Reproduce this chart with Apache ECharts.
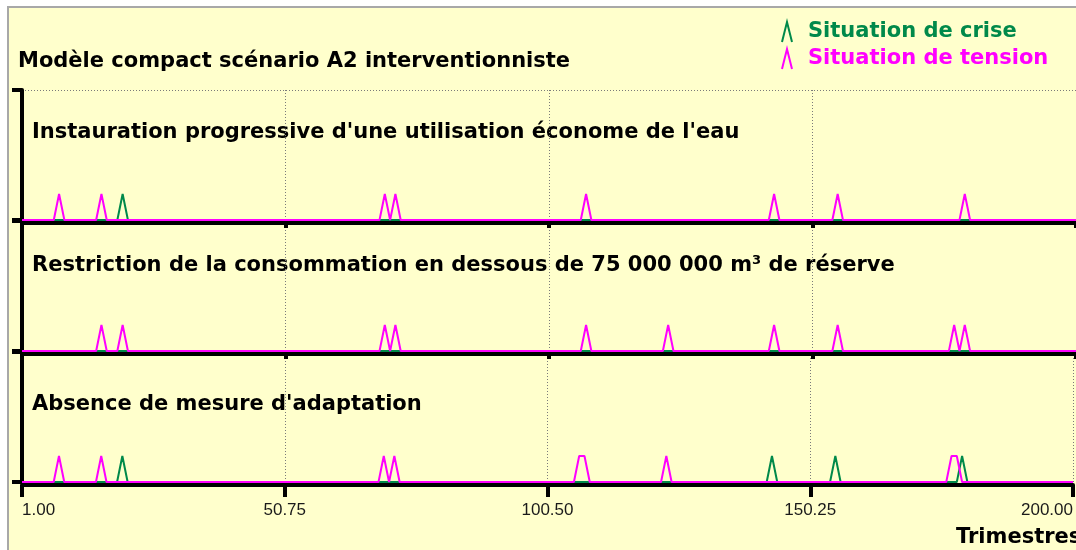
<!DOCTYPE html>
<html>
<head>
<meta charset="utf-8">
<script src="https://cdn.jsdelivr.net/npm/echarts@6/dist/echarts.min.js"></script>
<style>
html,body{margin:0;padding:0;background:#fff;}
#chart{width:1076px;height:550px;}
</style>
</head>
<body>
<div id="chart"></div>
<script>
// ---- data (trimesters at which each situation peaks) ----
const panelTitles = [
  "Instauration progressive d'une utilisation économe de l'eau",
  "Restriction de la consommation en dessous de 75 000 000 m³ de réserve",
  "Absence de mesure d'adaptation"
];
const seriesNames = ["Situation de crise", "Situation de tension"];
const crise1   = [20];
const tension1 = [8, 16, 69.5, 71.5, 107.5, 143, 155, 179];
const crise2   = [];
const tension2 = [16, 20, 69.5, 71.5, 107.5, 123, 143, 155, 177, 179];
const crise3   = [20, 143, 155, 179];
const tension3 = [8, 16, 69.5, 71.5, 106.5, 107.5, 123, 177, 178];
const tickLabels = ["1.00", "50.75", "100.50", "150.25", "200.00"];
const T_MIN = 1, T_MAX = 200;
const mainTitle = "Modèle compact scénario A2 interventionniste";
const xName = "Trimestres";

// ---- style ----
const GREEN = '#00894A';
const MAGENTA = '#FF00FF';
const BOLD_FONT = '"DejaVu Sans", sans-serif';

// build a 0/1 step line from the list of peak trimesters (x measured from T_MIN)
function buildLine(times) {
  const s = times.slice().sort((a, b) => a - b);
  const pts = [[0, 0]];
  s.forEach((t, i) => {
    const prev = s[i - 1], next = s[i + 1];
    if (prev === undefined || t - prev > 1) pts.push([t - 1 - T_MIN, 0]);
    pts.push([t - T_MIN, 1]);
    if (next === undefined || next - t > 1) pts.push([t + 1 - T_MIN, 0]);
  });
  pts.push([T_MAX - T_MIN, 0]);
  return pts;
}

const panels = [
  { crise: crise1, tension: tension1 },
  { crise: crise2, tension: tension2 },
  { crise: crise3, tension: tension3 }
];
const gridTops = [90, 221, 352];
const gridH = 130;

const grids = [], xAxes = [], yAxes = [], series = [];
panels.forEach((p, i) => {
  const last = i === panels.length - 1;
  grids.push({ left: 22, right: -2, top: gridTops[i], height: gridH, containLabel: false });
  xAxes.push({
    type: 'value', gridIndex: i, min: 0, max: T_MAX - T_MIN, interval: 49.75,
    offset: 3,
    axisLine: { show: true, onZero: false, lineStyle: { color: '#000', width: 4 } },
    axisTick: { show: true, length: last ? 12 : 5, lineStyle: { color: '#000', width: 4 } },
    axisLabel: {
      show: last, margin: 17, color: '#1a1a1a', fontSize: 17,
      fontFamily: '"Liberation Sans", Arial, sans-serif',
      alignMinLabel: 'left', alignMaxLabel: 'right',
      formatter: (v) => { const k = Math.round(v / 49.75); return tickLabels[k] !== undefined ? tickLabels[k] : (v + T_MIN).toFixed(2); }
    },
    splitLine: { show: true, lineStyle: { color: '#7a7a7a', width: 1, type: [1, 2] } }
  });
  yAxes.push({
    type: 'value', gridIndex: i, min: 0, max: 5, interval: 5,
    axisLine: { show: true, onZero: false, lineStyle: { color: '#000', width: 4 } },
    axisTick: { show: true, length: 10, lineStyle: { color: '#000', width: 4 } },
    axisLabel: { show: false },
    splitLine: { show: i === 0, lineStyle: { color: '#7a7a7a', width: 1, type: [1, 2] } }
  });
  series.push({
    type: 'line', name: seriesNames[0], xAxisIndex: i, yAxisIndex: i,
    data: buildLine(p.crise), symbol: 'none', z: 2,
    lineStyle: { color: GREEN, width: 2 }, itemStyle: { color: GREEN }
  });
  series.push({
    type: 'line', name: seriesNames[1], xAxisIndex: i, yAxisIndex: i,
    data: buildLine(p.tension), symbol: 'none', z: 3,
    lineStyle: { color: MAGENTA, width: 2 }, itemStyle: { color: MAGENTA }
  });
});

const LAMBDA = 'path://M0,20L5,0L10,20';
const labelY = [133, 266, 405];

const option = {
  animation: false,
  backgroundColor: '#ffffff',
  grid: grids, xAxis: xAxes, yAxis: yAxes, series: series,
  legend: {
    orient: 'vertical', left: 776, top: 16, itemWidth: 12, itemHeight: 20, itemGap: 5,
    icon: LAMBDA, selectedMode: false,
    textStyle: { fontFamily: BOLD_FONT, fontWeight: 'bold', fontSize: 21, padding: [0, 0, 0, 10] },
    data: [
      { name: seriesNames[0], textStyle: { color: GREEN }, itemStyle: { color: 'transparent', borderColor: GREEN, borderWidth: 2 } },
      { name: seriesNames[1], textStyle: { color: MAGENTA }, itemStyle: { color: 'transparent', borderColor: MAGENTA, borderWidth: 2 } }
    ]
  },
  graphic: [
    { type: 'rect', z: -100, silent: true, shape: { x: 8, y: 7, width: 1100, height: 600 },
      style: { fill: '#FFFFCC', stroke: '#A8A8A8', lineWidth: 2 } },
    { type: 'text', x: 18, y: 62, silent: true,
      style: { text: mainTitle, font: 'bold 21px ' + BOLD_FONT, fill: '#000', verticalAlign: 'middle' } },
    ...panelTitles.map((t, i) => ({ type: 'text', x: 32, y: labelY[i], silent: true,
      style: { text: t, font: 'bold 21px ' + BOLD_FONT, fill: '#000', verticalAlign: 'middle' } })),
    { type: 'text', x: 956, y: 538, silent: true,
      style: { text: xName, font: 'bold 21px ' + BOLD_FONT, fill: '#000', verticalAlign: 'middle' } }
  ]
};

const chart = echarts.init(document.getElementById('chart'), null, { renderer: 'canvas' });
chart.setOption(option);
</script>
</body>
</html>
